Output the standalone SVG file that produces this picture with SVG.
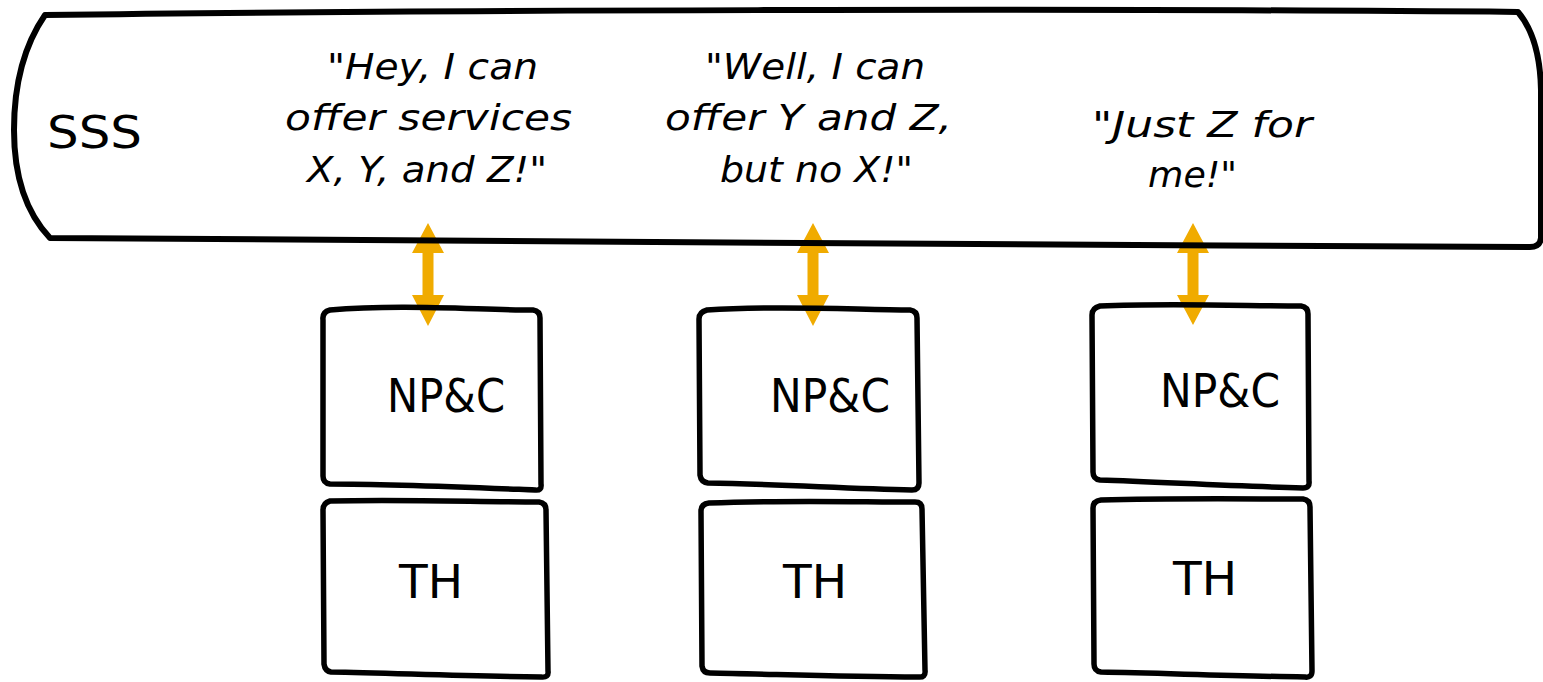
<svg xmlns="http://www.w3.org/2000/svg" width="1543" height="682" viewBox="0 0 1543 682">
<style>
.ln{fill:none;stroke:#000;stroke-width:5.5;stroke-linejoin:round;stroke-linecap:round}
.big{stroke-width:6}
.lbl{font-family:"DejaVu Sans","Liberation Sans",sans-serif;fill:#000}
.node{font-size:47px}
.q{font-size:35px;font-style:italic}
.arr{fill:#F0AB00}
</style>
<rect width="1543" height="682" fill="#fff"/>
<g id="connectors">
<polygon class="arr" points="428,223 444,253 433.5,253 433.5,295 444,295 428,326 412,295 422.5,295 422.5,253 412,253"/>
<polygon class="arr" points="813,223 829,253 818.5,253 818.5,295 829,295 813,326 797,295 807.5,295 807.5,253 797,253"/>
<polygon class="arr" points="1193,223 1209,253 1198.5,253 1198.5,295 1209,295 1193,325 1177,295 1187.5,295 1187.5,253 1177,253"/>
</g>
<g id="sss">
<path class="ln big" d="M45,15 C 400,10 1100,8 1518,12 Q1540,38 1541,90 L1541,238 Q1540,247 1530,247 C 1000,245 400,240 50,238 Q 14,200 14,130 Q 14,60 45,15 Z"/>
<text class="lbl" x="47" y="148" font-size="45" textLength="95" lengthAdjust="spacingAndGlyphs">SSS</text>
</g>
<g id="quote1">
<text class="lbl q" x="327" y="79" textLength="211" lengthAdjust="spacingAndGlyphs">"Hey, I can</text>
<text class="lbl q" x="285" y="130" textLength="287" lengthAdjust="spacingAndGlyphs">offer services</text>
<text class="lbl q" x="307" y="182" textLength="240" lengthAdjust="spacingAndGlyphs">X, Y, and Z!"</text>
</g>
<g id="quote2">
<text class="lbl q" x="705" y="79" textLength="220" lengthAdjust="spacingAndGlyphs">"Well, I can</text>
<text class="lbl q" x="665" y="130" textLength="287" lengthAdjust="spacingAndGlyphs">offer Y and Z,</text>
<text class="lbl q" x="720" y="182" textLength="193" lengthAdjust="spacingAndGlyphs">but no X!"</text>
</g>
<g id="quote3">
<text class="lbl q" x="1092" y="137" textLength="220" lengthAdjust="spacingAndGlyphs">"Just Z for</text>
<text class="lbl q" x="1148" y="187" textLength="89" lengthAdjust="spacingAndGlyphs">me!"</text>
</g>
<g id="npc1">
<path class="ln" d="M323,320 Q322,312 330,310 C 400,304 480,310 533,310 Q540,311 540,318 L 541,484 Q542,491 535,490 C 460,487 390,484 330,484 Q 323,483 323,476 Z"/>
<text class="lbl node" x="387" y="412" textLength="118" lengthAdjust="spacingAndGlyphs">NP&amp;C</text>
</g>
<g id="th1">
<path class="ln" d="M323,510 Q323,503 330,501 C 400,499 480,502 539,502 Q546,503 546,510 L 548,671 Q549,678 541,677 C 460,676 390,673 331,672 Q 325,671 324,664 Z"/>
<text class="lbl node" x="399" y="598" textLength="64" lengthAdjust="spacingAndGlyphs">TH</text>
</g>
<g id="npc2">
<path class="ln" d="M699,319 Q699,312 707,310 C 780,305 860,310 910,310 Q917,311 917,318 L 919,483 Q919,490 912,490 C 840,488 770,484 708,483 Q701,482 700,475 Z"/>
<text class="lbl node" x="770" y="412" textLength="120" lengthAdjust="spacingAndGlyphs">NP&amp;C</text>
</g>
<g id="th2">
<path class="ln" d="M701,511 Q701,504 709,503 C 780,500 860,502 915,502 Q922,502 922,509 L 925,670 Q926,678 918,677 C 840,677 770,674 710,673 Q703,673 702,666 Z"/>
<text class="lbl node" x="783" y="598" textLength="64" lengthAdjust="spacingAndGlyphs">TH</text>
</g>
<g id="npc3">
<path class="ln" d="M1092,315 Q1092,308 1100,306 C 1170,303 1250,306 1301,306 Q1308,307 1308,314 L 1309,481 Q1310,488 1303,488 C 1230,486 1160,482 1100,480 Q1093,479 1093,472 Z"/>
<text class="lbl node" x="1160" y="407" textLength="120" lengthAdjust="spacingAndGlyphs">NP&amp;C</text>
</g>
<g id="th3">
<path class="ln" d="M1093,508 Q1093,501 1101,500 C 1170,498 1250,499 1303,499 Q1310,500 1310,507 L 1312,671 Q1312,678 1305,677 C 1230,676 1160,673 1101,672 Q1094,671 1094,664 Z"/>
<text class="lbl node" x="1173" y="595" textLength="64" lengthAdjust="spacingAndGlyphs">TH</text>
</g>
</svg>
